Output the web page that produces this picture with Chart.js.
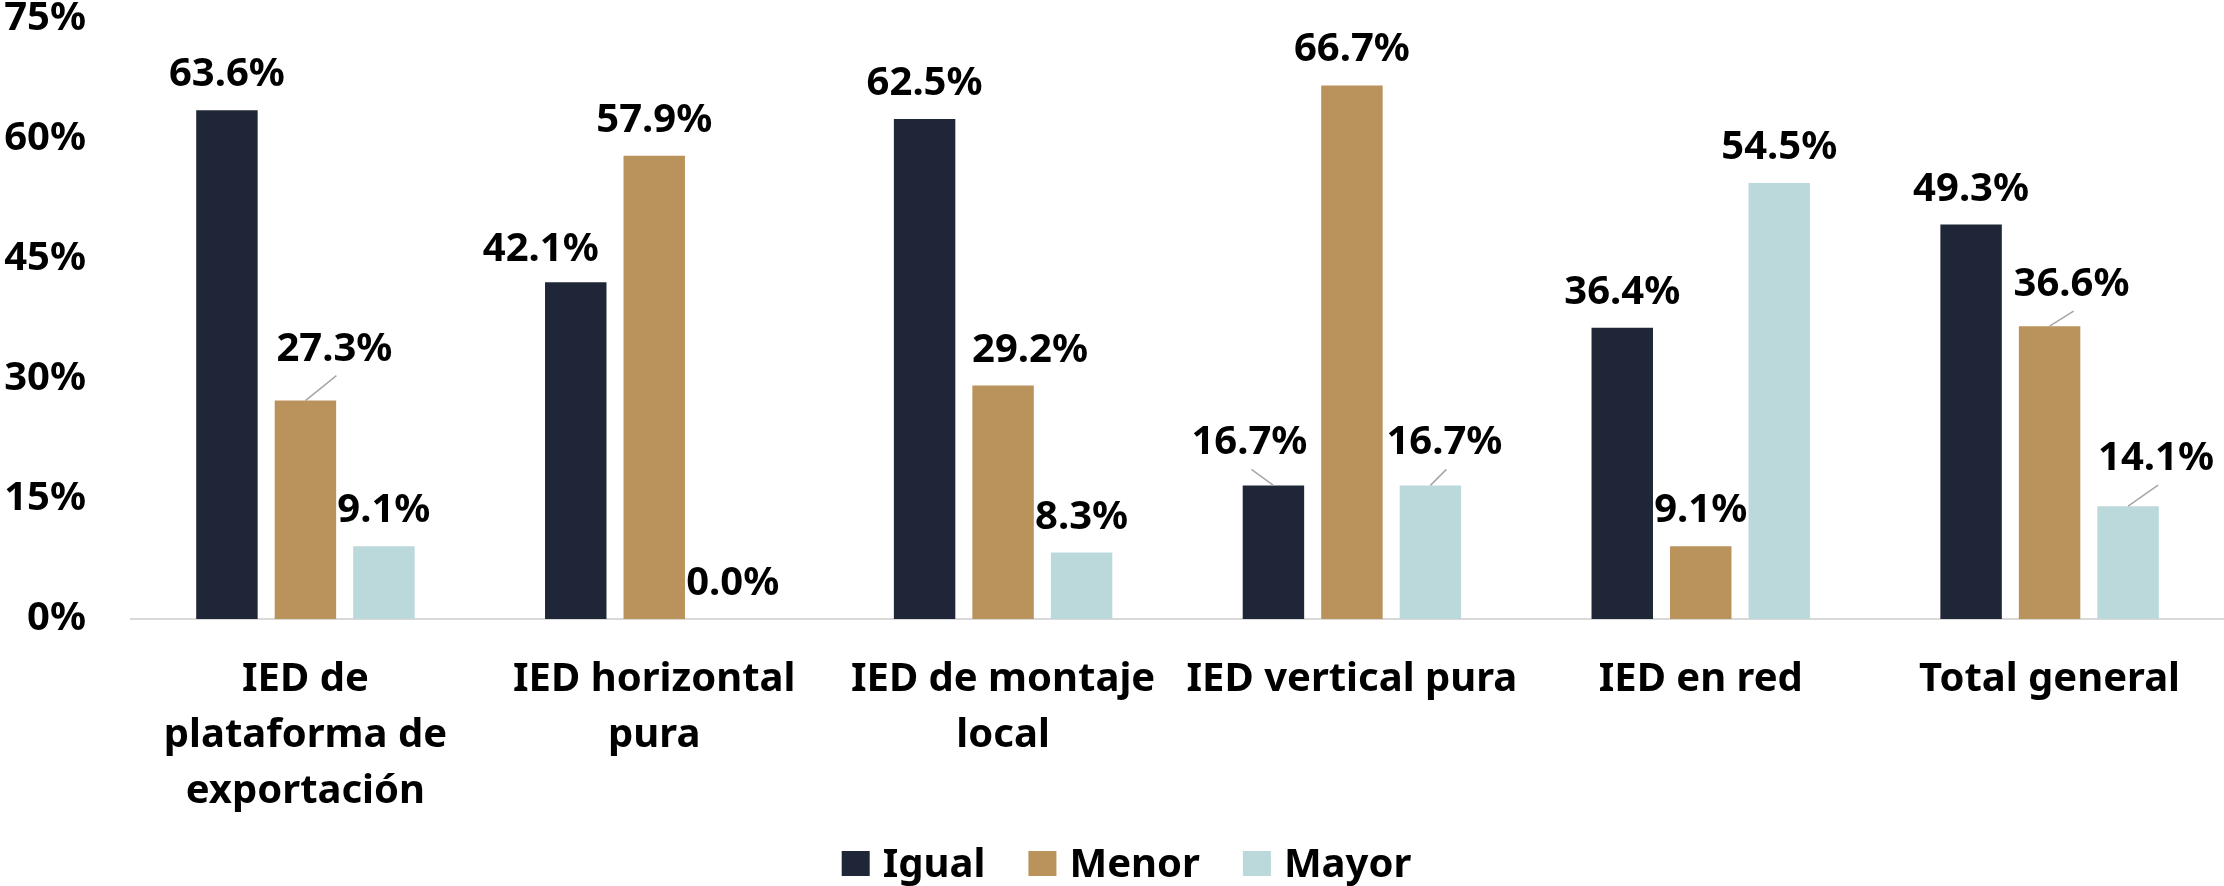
<!DOCTYPE html>
<html>
<head>
<meta charset="utf-8">
<script src="https://cdn.jsdelivr.net/npm/chart.js@4.4.1/dist/chart.umd.min.js"></script>
<style>
  html, body { margin: 0; padding: 0; background: #ffffff; }
  #wrap { width: 2224px; height: 886px; }
</style>
</head>
<body>
<div id="wrap"><canvas id="c" width="2224" height="886"></canvas></div>
<script>
// ---- Data ----
const categories = [
  ["IED de", "plataforma de", "exportación"],
  ["IED horizontal", "pura"],
  ["IED de montaje", "local"],
  ["IED vertical pura"],
  ["IED en red"],
  ["Total general"]
];
const seriesNames = ["Igual", "Menor", "Mayor"];
const igual = [63.6, 42.1, 62.5, 16.7, 36.4, 49.3];
const menor = [27.3, 57.9, 29.2, 66.7, 9.1, 36.6];
const mayor = [9.1, 0.0, 8.3, 16.7, 54.5, 14.1];
const yTicks = [0, 15, 30, 45, 60, 75];

// ---- Styles ----
const colors = ["#1F2637", "#BA925C", "#BBD9DB"];
const FONT = "'Noto Sans', 'Open Sans', sans-serif";
// label offsets (dx, raise, leader line) for labels that were moved
const labelMoves = {
  "1-0": { dx: 29, up: 40, line: true },
  "0-1": { dx: -35, up: 21, line: false },
  "1-2": { dx: 27, up: 23, line: false },
  "0-3": { dx: -24, up: 31, line: true },
  "2-3": { dx: 14, up: 31, line: true },
  "1-5": { dx: 22, up: 30, line: true },
  "2-5": { dx: 28, up: 36, line: true }
};

const valueLabels = {
  id: 'valueLabels',
  afterDatasetsDraw(chart) {
    const ctx = chart.ctx;
    ctx.save();
    ctx.font = "bold 40px " + FONT;
    ctx.textAlign = 'center';
    ctx.textBaseline = 'alphabetic';
    chart.data.datasets.forEach((ds, di) => {
      const meta = chart.getDatasetMeta(di);
      meta.data.forEach((bar, i) => {
        const v = ds.data[i];
        const txt = v.toFixed(1) + '%';
        const mv = labelMoves[di + '-' + i];
        let x = bar.x, y = bar.y - 24;
        if (mv) {
          x = bar.x + mv.dx;
          y = bar.y - mv.up;
          if (mv.line) {
            ctx.strokeStyle = '#A6A6A6';
            ctx.lineWidth = 1.5;
            ctx.beginPath();
            ctx.moveTo(bar.x, bar.y);
            ctx.lineTo(x + 2, y + 15);
            ctx.stroke();
          }
        }
        ctx.fillStyle = '#000000';
        ctx.fillText(txt, x, y);
      });
    });
    ctx.restore();
  }
};

// legend drawn below the axis labels, centred like the original
const bottomLegend = {
  id: 'bottomLegend',
  afterDraw(chart) {
    const ctx = chart.ctx;
    ctx.save();
    ctx.font = "bold 40px " + FONT;
    ctx.textBaseline = 'alphabetic';
    ctx.textAlign = 'left';
    const box = 28, boxH = 25, gapText = 13, gapItem = 43;
    const items = chart.data.datasets.map(d => ({ text: d.label, color: d.backgroundColor, w: ctx.measureText(d.label).width }));
    let total = 0;
    items.forEach((it, i) => { total += box + gapText + it.w + (i < items.length - 1 ? gapItem : 0); });
    let x = 1126.5 - total / 2;
    const base = 877;
    items.forEach(it => {
      ctx.fillStyle = it.color;
      ctx.fillRect(x, base - boxH - 1, box, boxH);
      x += box + gapText;
      ctx.fillStyle = '#000000';
      ctx.fillText(it.text, x, base);
      x += it.w + gapItem;
    });
    ctx.restore();
  }
};

Chart.defaults.font.family = FONT;

new Chart(document.getElementById('c'), {
  type: 'bar',
  data: {
    labels: categories,
    datasets: [
      { label: seriesNames[0], data: igual, backgroundColor: colors[0] },
      { label: seriesNames[1], data: menor, backgroundColor: colors[1] },
      { label: seriesNames[2], data: mayor, backgroundColor: colors[2] }
    ]
  },
  options: {
    responsive: false,
    animation: false,
    events: [],
    layout: { padding: { top: 19, right: 0, left: 0, bottom: 0 } },
    datasets: {
      bar: { categoryPercentage: 0.675, barPercentage: 0.783 }
    },
    plugins: {
      legend: { display: false },
      tooltip: { enabled: false }
    },
    scales: {
      x: {
        grid: { display: false, drawTicks: false },
        border: { display: true, color: '#D9D9D9', width: 2 },
        ticks: {
          color: '#000000',
          font: { size: 40, weight: 'bold', family: FONT, lineHeight: 1.4 },
          padding: 33,
          maxRotation: 0,
          autoSkip: false
        },
        afterFit(scale) { scale.height = 267; }
      },
      y: {
        min: 0,
        max: 75,
        afterBuildTicks(scale) { scale.ticks = yTicks.map(v => ({ value: v })); },
        grid: { display: false, drawTicks: false },
        border: { display: false },
        ticks: {
          color: '#000000',
          font: { size: 40, weight: 'bold', family: FONT, lineHeight: 1 },
          padding: 45,
          callback: v => v + '%'
        },
        afterFit(scale) { scale.width = 131; scale.paddingTop = 0; scale.paddingBottom = 0; }
      }
    }
  },
  plugins: [valueLabels, bottomLegend]
});
</script>
</body>
</html>
